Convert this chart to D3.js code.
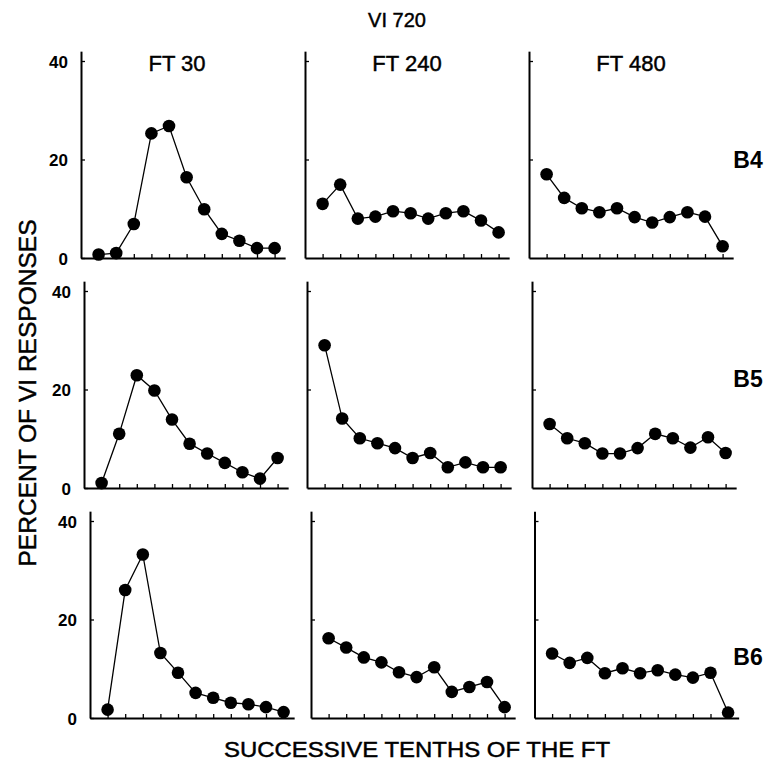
<!DOCTYPE html>
<html>
<head>
<meta charset="utf-8">
<script src="https://cdn.jsdelivr.net/npm/d3@7"></script>
<style>
  body { margin: 0; background: #fff; }
  svg { display: block; }
  text { font-family: "Liberation Sans", Arial, Helvetica, sans-serif; fill: #000; }
  .heavy { stroke: #000; stroke-width: 0.45px; }
</style>
</head>
<body>
<div id="chart"></div>
<script>
document.addEventListener('DOMContentLoaded', () => {
    // conditions (columns) and subjects (rows)
    const schedules = ['FT 30', 'FT 240', 'FT 480'];
    const subjects = ['B4', 'B5', 'B6'];
    const tenths = d3.range(11); // 11 points per panel
    const yTicks = [0, 20, 40];

    // percent of VI responses
    const b4Ft30 = [0.7, 1.0, 6.9, 25.3, 26.8, 16.4, 9.9, 4.9, 3.5, 2.0, 2.0];
    const b4Ft240 = [11.0, 14.9, 8.0, 8.4, 9.5, 9.1, 8.0, 9.1, 9.5, 7.6, 5.2];
    const b4Ft480 = [17.0, 12.2, 10.1, 9.3, 10.1, 8.3, 7.2, 8.3, 9.3, 8.4, 2.4];
    const b5Ft30 = [1.0, 11.0, 22.9, 19.8, 13.9, 9.0, 7.0, 5.1, 3.2, 1.9, 6.1];
    const b5Ft240 = [29.0, 14.1, 10.1, 9.1, 8.1, 6.1, 7.1, 4.2, 5.2, 4.2, 4.2];
    const b5Ft480 = [13.0, 10.1, 9.1, 7.0, 7.0, 8.1, 11.0, 10.1, 8.2, 10.3, 7.1];
    const b6Ft30 = [1.7, 26.0, 33.2, 13.2, 9.2, 5.1, 4.1, 3.1, 2.8, 2.2, 1.2];
    const b6Ft240 = [16.2, 14.3, 12.3, 11.3, 9.3, 8.3, 10.3, 5.3, 6.3, 7.3, 2.2];
    const b6Ft480 = [13.1, 11.2, 12.2, 9.1, 10.1, 9.1, 9.7, 8.8, 8.2, 9.2, 1.1];

    const series = [
        [b4Ft30, b4Ft240, b4Ft480],
        [b5Ft30, b5Ft240, b5Ft480],
        [b6Ft30, b6Ft240, b6Ft480]
    ];

    const width = 772;
    const height = 771;

    // panel layout (scanned figure is slightly skewed, so each row has its own x)
    const axisX = [[81, 305, 529], [84, 307, 532], [90, 311, 534.5]];
    const baseY = [258, 488, 718];
    const headerX = [177, 407, 631];
    const step = 17.6;
    const unit = 197 / 40;

    const svg = d3.select('#chart')
        .append('svg')
        .attr('width', width)
        .attr('height', height);

    series.forEach((row, r) => {
        row.forEach((values, c) => {
            const x0 = axisX[r][c];
            const xScale = d3.scaleLinear()
                .domain([-1, 10.6])
                .range([x0, x0 + 11.6 * step]);
            const yScale = d3.scaleLinear()
                .domain([0, 42])
                .range([baseY[r], baseY[r] - 42 * unit]);

            const g = svg.append('g').attr('class', 'panel');

            const xAxis = d3.axisBottom(xScale)
                .tickValues(tenths)
                .tickSize(-4)
                .tickSizeOuter(0)
                .tickFormat('');
            const xg = g.append('g')
                .attr('transform', `translate(0, ${baseY[r]})`)
                .call(xAxis);

            const yAxis = d3.axisLeft(yScale)
                .tickValues(c === 0 ? yTicks : [20, 40])
                .tickSize(-4)
                .tickSizeOuter(0)
                .tickPadding(13)
                .tickFormat(c === 0 ? d3.format('d') : '');
            const yg = g.append('g')
                .attr('transform', `translate(${x0}, 0)`)
                .call(yAxis);

            [xg, yg].forEach(a => {
                a.select('.domain').attr('stroke', '#000').attr('stroke-width', 2);
                a.selectAll('.tick line').attr('stroke', '#000').attr('stroke-width', 1.3);
            });
            yg.selectAll('.tick text')
                .style('font-size', '17px')
                .style('font-weight', 'bold')
                .attr('dy', '0.36em');

            const line = d3.line()
                .x((d, i) => xScale(i))
                .y(d => yScale(d));

            g.append('path')
                .datum(values)
                .attr('d', line)
                .attr('fill', 'none')
                .attr('stroke', '#000')
                .attr('stroke-width', 1.3);

            g.selectAll('circle')
                .data(values)
                .enter()
                .append('circle')
                .attr('cx', (d, i) => xScale(i))
                .attr('cy', d => yScale(d))
                .attr('r', 6.3)
                .attr('fill', '#000');

            // column headers over the top row
            if (r === 0) {
                g.append('text')
                    .attr('class', 'heavy')
                    .attr('x', headerX[c])
                    .attr('y', 71)
                    .attr('text-anchor', 'middle')
                    .style('font-size', '22px')
                    .text(schedules[c]);
            }
        });
    });

    // subject labels on the right
    const subjectY = [160, 379, 657];
    subjects.forEach((s, r) => {
        svg.append('text')
            .attr('x', 748)
            .attr('y', subjectY[r])
            .attr('dy', '0.36em')
            .attr('text-anchor', 'middle')
            .style('font-size', '23px')
            .style('font-weight', 'bold')
            .text(s);
    });

    svg.append('text')
        .attr('class', 'heavy')
        .attr('x', 397)
        .attr('y', 27)
        .attr('text-anchor', 'middle')
        .style('font-size', '20px')
        .text('VI 720');

    svg.append('text')
        .attr('class', 'heavy')
        .attr('transform', 'translate(36, 393) rotate(-90)')
        .attr('text-anchor', 'middle')
        .attr('textLength', 347)
        .attr('lengthAdjust', 'spacingAndGlyphs')
        .style('font-size', '23px')
        .text('PERCENT OF VI RESPONSES');

    svg.append('text')
        .attr('class', 'heavy')
        .attr('x', 417)
        .attr('y', 757)
        .attr('text-anchor', 'middle')
        .attr('textLength', 386)
        .attr('lengthAdjust', 'spacingAndGlyphs')
        .style('font-size', '22px')
        .text('SUCCESSIVE TENTHS OF THE FT');
});
</script>
</body>
</html>
